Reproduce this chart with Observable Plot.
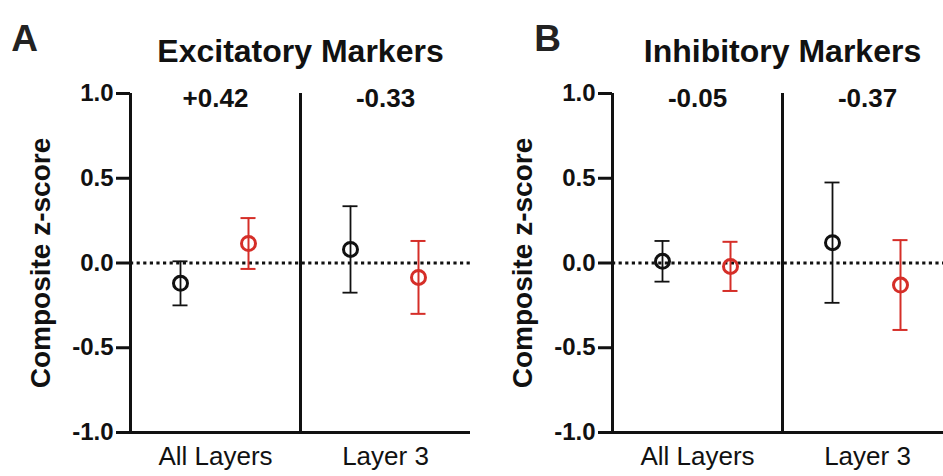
<!DOCTYPE html>
<html>
<head>
<meta charset="utf-8">
<script src="https://cdn.jsdelivr.net/npm/d3@7"></script>
<script src="https://cdn.jsdelivr.net/npm/@observablehq/plot@0.6"></script>
<style>
  html, body { margin: 0; padding: 0; background: #fff; overflow: hidden; }
  #wrap { display: flex; width: 964px; height: 476px; }
</style>
</head>
<body>
<div id="wrap"></div>
<script>
// ---- data ----
const layers = ["All Layers", "Layer 3"];
const yTicks = [-1, -0.5, 0, 0.5, 1];
const yLabel = "Composite z-score";

const excTitle = "Excitatory Markers";
const excLetter = "A";
const excDiff = ["+0.42", "-0.33"];
const excMeanCtrl = [-0.12, 0.08];
const excErrCtrl = [0.13, 0.255];
const excMeanCase = [0.115, -0.085];
const excErrCase = [0.15, 0.215];

const inhTitle = "Inhibitory Markers";
const inhLetter = "B";
const inhDiff = ["-0.05", "-0.37"];
const inhMeanCtrl = [0.01, 0.12];
const inhErrCtrl = [0.12, 0.355];
const inhMeanCase = [-0.02, -0.13];
const inhErrCase = [0.145, 0.265];

const BLACK = "#111";
const RED = "#d52e28";
const FONT = "'Liberation Sans', Arial, Helvetica, sans-serif";

function rows(means, errs) {
  return layers.map((layer, i) => ({layer, mean: means[i], lo: means[i] - errs[i], hi: means[i] + errs[i]}));
}

function panel({title, letter, letterDx, diff, ctrl, cas}) {
  const W = 482, ML = 130, MR = 12;
  const bw = (W - ML - MR) / layers.length;
  const capInset = (bw - 15) / 2;
  const series = [
    {data: ctrl, dx: -35, color: BLACK, ew: 1.8},
    {data: cas, dx: 33, color: RED, ew: 2}
  ];
  const marks = [
    Plot.ruleY([0], {stroke: BLACK, strokeWidth: 3.2, strokeDasharray: "3.2,3.4"}),
    Plot.ruleX(layers, {x: d => d, dx: -bw / 2, stroke: BLACK, strokeWidth: 3}),
    Plot.ruleY([-1], {stroke: BLACK, strokeWidth: 3}),
    Plot.axisY({ticks: yTicks, tickSize: 14, tickPadding: 3, tickFormat: d => d.toFixed(1),
      fontSize: 24, fontWeight: "bold", strokeWidth: 3, label: null}),
    Plot.axisX({tickSize: 0, tickPadding: 14, fontSize: 26, label: null}),
    Plot.text([yLabel], {text: d => d, frameAnchor: "left", textAnchor: "middle", rotate: -90, dx: -89,
      fontSize: 28, fontWeight: "bold", fill: BLACK}),
    Plot.text([title], {text: d => d, frameAnchor: "top", dy: -54, fontSize: 32, fontWeight: "bold", fill: BLACK}),
    Plot.text([letter], {text: d => d, frameAnchor: "top-left", textAnchor: "middle", dx: letterDx, dy: -69,
      fontSize: 37, fontWeight: "bold", fill: "#222"}),
    Plot.text(layers.map((l, i) => ({layer: l, label: diff[i]})), {x: "layer", text: "label", frameAnchor: "top", dy: -5,
      fontSize: 26, fontWeight: "bold", fill: BLACK})
  ];
  for (const s of series) {
    marks.push(
      Plot.ruleX(s.data, {x: "layer", y1: "lo", y2: "hi", dx: s.dx, stroke: s.color, strokeWidth: s.ew}),
      Plot.tickY(s.data, {x: "layer", y: "hi", dx: s.dx, insetLeft: capInset, insetRight: capInset, stroke: s.color, strokeWidth: s.ew}),
      Plot.tickY(s.data, {x: "layer", y: "lo", dx: s.dx, insetLeft: capInset, insetRight: capInset, stroke: s.color, strokeWidth: s.ew}),
      Plot.dot(s.data, {x: "layer", y: "mean", dx: s.dx, r: 7, stroke: s.color, strokeWidth: 3, fill: "none"})
    );
  }
  return Plot.plot({
    width: W, height: 476,
    marginLeft: ML, marginRight: MR, marginTop: 93, marginBottom: 44,
    style: {fontFamily: FONT, background: "white", color: BLACK, overflow: "visible"},
    x: {type: "band", domain: layers, padding: 0},
    y: {domain: [-1, 1]},
    marks
  });
}

const wrap = document.getElementById("wrap");
wrap.appendChild(panel({title: excTitle, letter: excLetter, letterDx: -106, diff: excDiff,
  ctrl: rows(excMeanCtrl, excErrCtrl), cas: rows(excMeanCase, excErrCase)}));
wrap.appendChild(panel({title: inhTitle, letter: inhLetter, letterDx: -65, diff: inhDiff,
  ctrl: rows(inhMeanCtrl, inhErrCtrl), cas: rows(inhMeanCase, inhErrCase)}));
</script>
</body>
</html>
